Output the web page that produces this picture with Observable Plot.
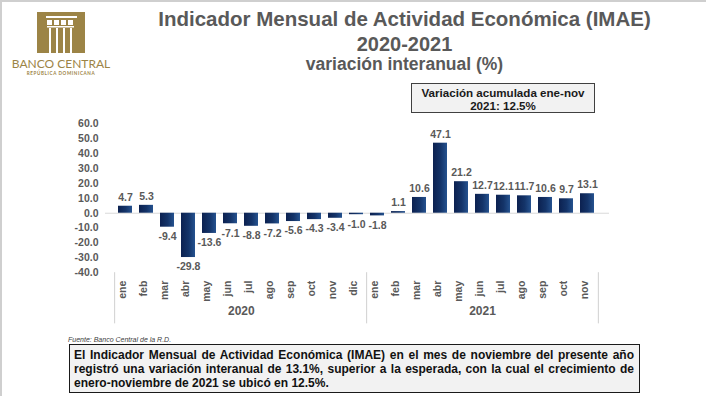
<!DOCTYPE html>
<html>
<head>
<meta charset="utf-8">
<script src="https://cdn.jsdelivr.net/npm/d3@7"></script>
<script src="https://cdn.jsdelivr.net/npm/@observablehq/plot@0.6"></script>
<style>
  html, body { margin: 0; padding: 0; background: #fff; }
  #wrap { position: relative; width: 706px; height: 396px; overflow: hidden; font-family: "Liberation Sans", Arial, sans-serif; }
  #frame { position: absolute; left: 0; top: 0; width: 704px; height: 394px; border-top: 2px solid #cfcfcf; border-left: 2px solid #cfcfcf; pointer-events: none; }
  #chart { position: absolute; left: 0; top: 0; }
  .title { position: absolute; left: 104.5px; width: 600px; text-align: center; color: #595959; font-weight: bold; white-space: nowrap; }
  #note { position: absolute; left: 411px; top: 83px; width: 184px; height: 30px; box-sizing: border-box; border: 1.5px solid #404040; background: #f2f2f2; text-align: center; font-weight: bold; font-size: 11.6px; line-height: 13.4px; padding-top: 1.5px; color: #1a1a1a; }
  #source { position: absolute; left: 68px; top: 336px; font-size: 7px; font-style: italic; color: #404040; }
  #textbox { position: absolute; left: 69px; top: 344px; width: 571px; height: 49px; box-sizing: border-box; border: 1.5px solid #1a1a1a; background: #f2f2f2; padding: 2.5px 5px 0 4px; font-weight: bold; font-size: 12px; line-height: 14px; color: #111; }
  #textbox .j { text-align: justify; text-align-last: justify; }
  #logo { position: absolute; left: 0; top: 0; }
</style>
</head>
<body>
<div id="wrap">
  <div id="chart"></div>
  <svg id="logo" width="120" height="80">
    <rect x="37" y="12" width="48" height="41" fill="#9c8446"></rect>
    <rect x="46" y="16" width="31" height="2" fill="#fff"></rect>
    <rect x="47" y="20" width="5" height="5" fill="#fff"></rect>
    <rect x="54" y="20" width="5" height="5" fill="#fff"></rect>
    <rect x="61" y="20" width="5" height="5" fill="#fff"></rect>
    <rect x="68" y="20" width="5" height="5" fill="#fff"></rect>
    <rect x="47" y="26" width="27" height="1.5" fill="#fff"></rect>
    <rect x="49" y="28" width="2" height="25" fill="#fff"></rect>
    <rect x="56" y="28" width="2" height="25" fill="#fff"></rect>
    <rect x="63" y="28" width="2" height="25" fill="#fff"></rect>
    <rect x="70" y="28" width="2" height="25" fill="#fff"></rect>
    <text x="61" y="67.5" text-anchor="middle" font-family="Lato, 'Open Sans', sans-serif" font-size="12" fill="#9c8446">BANCO CENTRAL</text>
    <text x="61" y="74.5" text-anchor="middle" font-family="Lato, sans-serif" font-size="4.6" font-weight="bold" letter-spacing="0.6" fill="#9c8446">REPÚBLICA DOMINICANA</text>
  </svg>
  <div class="title" style="top:7px;font-size:20.5px;line-height:23px;">Indicador Mensual de Actividad Económica (IMAE)</div>
  <div class="title" style="top:33px;font-size:20px;line-height:23px;">2020-2021</div>
  <div class="title" style="top:54px;font-size:17.5px;line-height:20px;">variación interanual (%)</div>
  <div id="note">Variación acumulada ene-nov<br>2021: 12.5%</div>
  <div id="source">Fuente: Banco Central de la R.D.</div>
  <div id="textbox">
    <div class="j">El Indicador Mensual de Actividad Económica (IMAE) en el mes de noviembre del presente año</div>
    <div class="j">registró una variación interanual de 13.1%, superior a la esperada, con la cual el crecimiento de</div>
    <div>enero-noviembre de 2021 se ubicó en 12.5%.</div>
  </div>
  <div id="frame"></div>
</div>
<script>
// ---- data ----
const months2020 = ["ene","feb","mar","abr","may","jun","jul","ago","sep","oct","nov","dic"];
const values2020 = [4.7, 5.3, -9.4, -29.8, -13.6, -7.1, -8.8, -7.2, -5.6, -4.3, -3.4, -1.0];
const months2021 = ["ene","feb","mar","abr","may","jun","jul","ago","sep","oct","nov"];
const values2021 = [-1.8, 1.1, 10.6, 47.1, 21.2, 12.7, 12.1, 11.7, 10.6, 9.7, 13.1];
const years = ["2020", "2021"];
const yTicks = [-40, -30, -20, -10, 0, 10, 20, 30, 40, 50, 60];

// ---- table built from arrays ----
const rows = [
  ...months2020.map((m, i) => ({year: years[0], month: m, key: years[0] + "-" + m, value: values2020[i]})),
  ...months2021.map((m, i) => ({year: years[1], month: m, key: years[1] + "-" + m, value: values2021[i]}))
];
const keys = rows.map(d => d.key);

const W = 706, H = 396, mL = 107, mR = 100;
const step = (W - mL - mR) / keys.length;
const lab = "#595959";

const groups = years.map(y => {
  const ks = rows.filter(d => d.year === y).map(d => d.key);
  return {year: y, first: ks[0], last: ks[ks.length - 1], mid: ks[Math.floor((ks.length - 1) / 2)], odd: ks.length % 2 === 1};
});
const oddGroups = groups.filter(d => d.odd);
const evenGroups = groups.filter(d => !d.odd);

const brace = (index, scales) => {
  const cx = k => scales.x(k) + scales.x.bandwidth() / 2;
  const g2 = groups[groups.length - 1];
  const x0 = cx(g2.first);
  const x1 = cx(g2.last) + step / 2 + 3;
  const xm = (x0 + x1) / 2 + 4;
  const yb = scales.y(57.2), ye = scales.y(53.6), yt = scales.y(61.8);
  const r = 6;
  const p = `M${x0},${ye} Q${x0},${yb} ${x0 + r},${yb} L${xm - r},${yb} Q${xm},${yb} ${xm},${yt} Q${xm},${yb} ${xm + r},${yb} L${x1 - r},${yb} Q${x1},${yb} ${x1},${ye}`;
  return d3.create("svg:path").attr("d", p).attr("fill", "none").attr("stroke", "#4a7ebb").attr("stroke-width", 1.6).node();
};

const chart = Plot.plot({
  width: W, height: H,
  marginLeft: mL, marginRight: mR, marginTop: 123.5, marginBottom: 123.8,
  x: {domain: keys, paddingInner: 0.33, paddingOuter: 0.165, axis: null},
  y: {domain: [-40, 60], axis: null},
  style: {fontFamily: "'Liberation Sans', Arial, sans-serif", background: "transparent", overflow: "visible"},
  marks: [
    Plot.ruleY([0], {stroke: "#d9d9d9", strokeWidth: 1, insetLeft: -2, insetRight: -3}),
    Plot.barY(rows, {x: "key", y: "value", fill: "url(#barGrad)"}),
    Plot.text(rows.filter(d => d.value >= 0), {x: "key", y: "value", text: d => d.value.toFixed(1), dy: -9, fontSize: 10.5, fontWeight: "bold", fill: lab}),
    Plot.text(rows.filter(d => d.value < 0), {x: "key", y: "value", text: d => d.value.toFixed(1), dy: 9.5, fontSize: 10.5, fontWeight: "bold", fill: lab}),
    Plot.axisY({ticks: yTicks, label: null, tickSize: 0, tickPadding: 9, tickFormat: d => d.toFixed(1), fontSize: 10.5, fontWeight: "bold", fill: lab}),
    Plot.text(rows, {x: "key", text: "month", frameAnchor: "bottom", rotate: -90, textAnchor: "end", dy: 8, fontSize: 10.5, fontWeight: "bold", fill: lab}),
    Plot.text(oddGroups, {x: "mid", text: "year", frameAnchor: "bottom", dy: 42, fontSize: 12, fontWeight: "bold", fill: lab}),
    Plot.text(evenGroups, {x: "mid", text: "year", frameAnchor: "bottom", dy: 42, dx: step / 2, fontSize: 12, fontWeight: "bold", fill: lab}),
    Plot.ruleX(groups, {x: "first", dx: -step / 2, y1: -40, y2: -74.4, stroke: "#d0d0d0", strokeWidth: 1}),
    Plot.ruleX(groups.slice(-1), {x: "last", dx: step / 2, y1: -40, y2: -74.4, stroke: "#d0d0d0", strokeWidth: 1}),
    Plot.text([0], {render: brace})
  ]
});

d3.select(chart).insert("defs", ":first-child").html(
  '<linearGradient id="barGrad" x1="0" x2="1" y1="0" y2="0">' +
  '<stop offset="0" stop-color="#0c2150"/><stop offset="0.55" stop-color="#143469"/><stop offset="1" stop-color="#25528f"/>' +
  '</linearGradient>'
);
document.getElementById("chart").appendChild(chart);
</script>
</body>
</html>
